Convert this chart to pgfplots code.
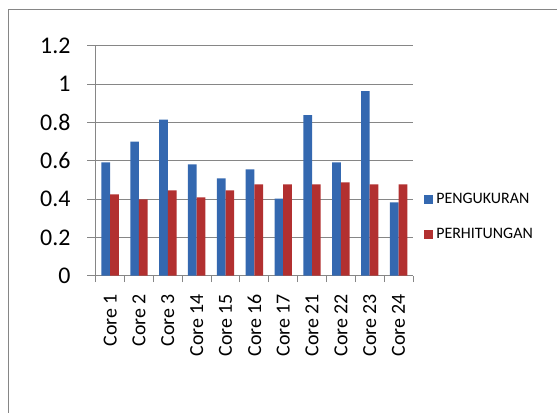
\documentclass[border=0pt]{standalone}
\usepackage{pgfplots}
\pgfplotsset{compat=1.18}
\usepackage{fontspec}
\setmainfont{Carlito}
\definecolor{gridgray}{RGB}{134,134,134}
\definecolor{blueBar}{RGB}{52,104,176}
\definecolor{redBar}{RGB}{178,48,48}
\begin{document}
\begin{tikzpicture}[x=1bp,y=1bp]
\path[use as bounding box] (0,0) rectangle (557,412);
\draw[gridgray, line width=1bp] (8,-5) -- (8,402) -- (562,402);
\begin{axis}[
  at={(95.7bp,136.3bp)}, anchor=south west,
  scale only axis, width=317.3bp, height=230bp,
  xmin=-0.5, xmax=10.5, ymin=0, ymax=1.2,
  ybar=0pt, bar width=8.7bp,
  axis lines*=left,
  axis line style={gridgray, line width=1bp},
  every tick/.style={gridgray, line width=1bp},
  tick align=outside,
  major tick length=8.7bp,
  ytick={0,0.2,0.4,0.6,0.8,1,1.2},
  ymajorgrids, grid style={gridgray, line width=1bp},
  xtick={0,...,10},
  xticklabels={Core 1,Core 2,Core 3,Core 14,Core 15,Core 16,Core 17,Core 21,Core 22,Core 23,Core 24},
  xtick style={draw=none},
  extra x ticks={-0.5,0.5,...,10.5},
  extra x tick labels={},
  extra x tick style={xtick style={draw=gridgray}, major tick length=6.5bp},
  /pgf/number format/assume math mode=true,
  yticklabel style={font=\fontsize{24}{28}\selectfont},
  yticklabel shift=13bp,
  xticklabel style={font=\fontsize{20}{24}\selectfont, rotate=90, anchor=east},
  xticklabel shift=6bp,
  legend style={at={(1.035,0.367)}, anchor=north west, draw=none, fill=none,
    font=\fontsize{16}{18}\selectfont, row sep=19bp, inner sep=0pt,
    nodes={inner xsep=3bp}},
  legend cell align=left,
  legend image code/.code={\path[#1,draw=none] (0bp,-4.5bp) rectangle (9bp,4.5bp);},
]
\addplot[draw=none, fill=blueBar]
  coordinates {(0,0.591) (1,0.699) (2,0.814) (3,0.581) (4,0.508) (5,0.555) (6,0.402) (7,0.838) (8,0.591) (9,0.963) (10,0.383)};
\addplot[draw=none, fill=redBar]
  coordinates {(0,0.424) (1,0.398) (2,0.445) (3,0.409) (4,0.445) (5,0.477) (6,0.477) (7,0.477) (8,0.487) (9,0.477) (10,0.477)};
\legend{PENGUKURAN,PERHITUNGAN}
\end{axis}
\end{tikzpicture}
\end{document}
